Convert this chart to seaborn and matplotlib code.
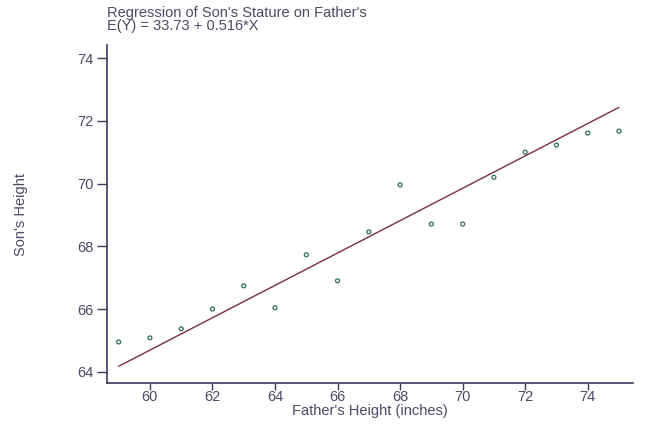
import matplotlib
matplotlib.use("Agg")
import matplotlib.pyplot as plt
import numpy as np
import pandas as pd
import seaborn as sns

# Father / son heights (inches)
father = [59, 60, 61, 62, 63, 64, 65, 66, 67, 68, 69, 70, 71, 72, 73, 74, 75]
son = [64.95, 65.08, 65.37, 66.0, 66.74, 66.04, 67.73, 66.9, 68.46, 69.96,
       68.71, 68.71, 70.2, 71.0, 71.23, 71.61, 71.67]

# Fitted regression E(Y) = a + b*X
intercept = 33.73
slope = 0.516

x_ticks = [60, 62, 64, 66, 68, 70, 72, 74]
y_ticks = [64, 66, 68, 70, 72, 74]

sns.set_theme(style="white")
plt.rcParams["font.family"] = ["Liberation Sans", "DejaVu Sans"]

axis_col = "#3b3b5c"
text_col = "#4a4a66"

df = pd.DataFrame({"father": father, "son": son})
fit = pd.DataFrame({"father": [min(father), max(father)]})
fit["son"] = intercept + slope * fit["father"]

fig = plt.figure(figsize=(6.45, 4.28), dpi=100)
ax = fig.add_axes([0.166, 0.105, 0.815, 0.79])

sns.lineplot(data=fit, x="father", y="son", ax=ax, color="#7a2e3e",
             linewidth=1.0)
sns.scatterplot(data=df, x="father", y="son", ax=ax, marker="o", s=8,
                facecolor="none", edgecolor="#2e6b58", linewidth=0.9)

ax.set_xlim(58.63, 75.44)
ax.set_ylim(63.64, 74.42)
ax.set_xticks(x_ticks)
ax.set_yticks(y_ticks)

for side in ("top", "right"):
    ax.spines[side].set_visible(False)
for side in ("left", "bottom"):
    ax.spines[side].set_color(axis_col)
    ax.spines[side].set_linewidth(1.2)

ax.tick_params(axis="both", bottom=True, left=True, colors=axis_col,
               labelcolor=text_col, labelsize=10.5, width=1.0,
               direction="out")
ax.tick_params(axis="y", length=7, pad=3)
ax.tick_params(axis="x", length=5, pad=0)

ax.set_xlabel("Father's Height (inches)", color=text_col, fontsize=10.5,
              labelpad=0)
ax.set_ylabel("Son's Height", color=text_col, fontsize=10.5)
ax.yaxis.set_label_coords(-0.15, 0.5)

fig.text(0.166, 0.986, "Regression of Son's Stature on Father's\nE(Y) = 33.73 + 0.516*X",
         ha="left", va="top", color=text_col, fontsize=10.5, linespacing=0.95)

fig.savefig("out.png", dpi=100)
